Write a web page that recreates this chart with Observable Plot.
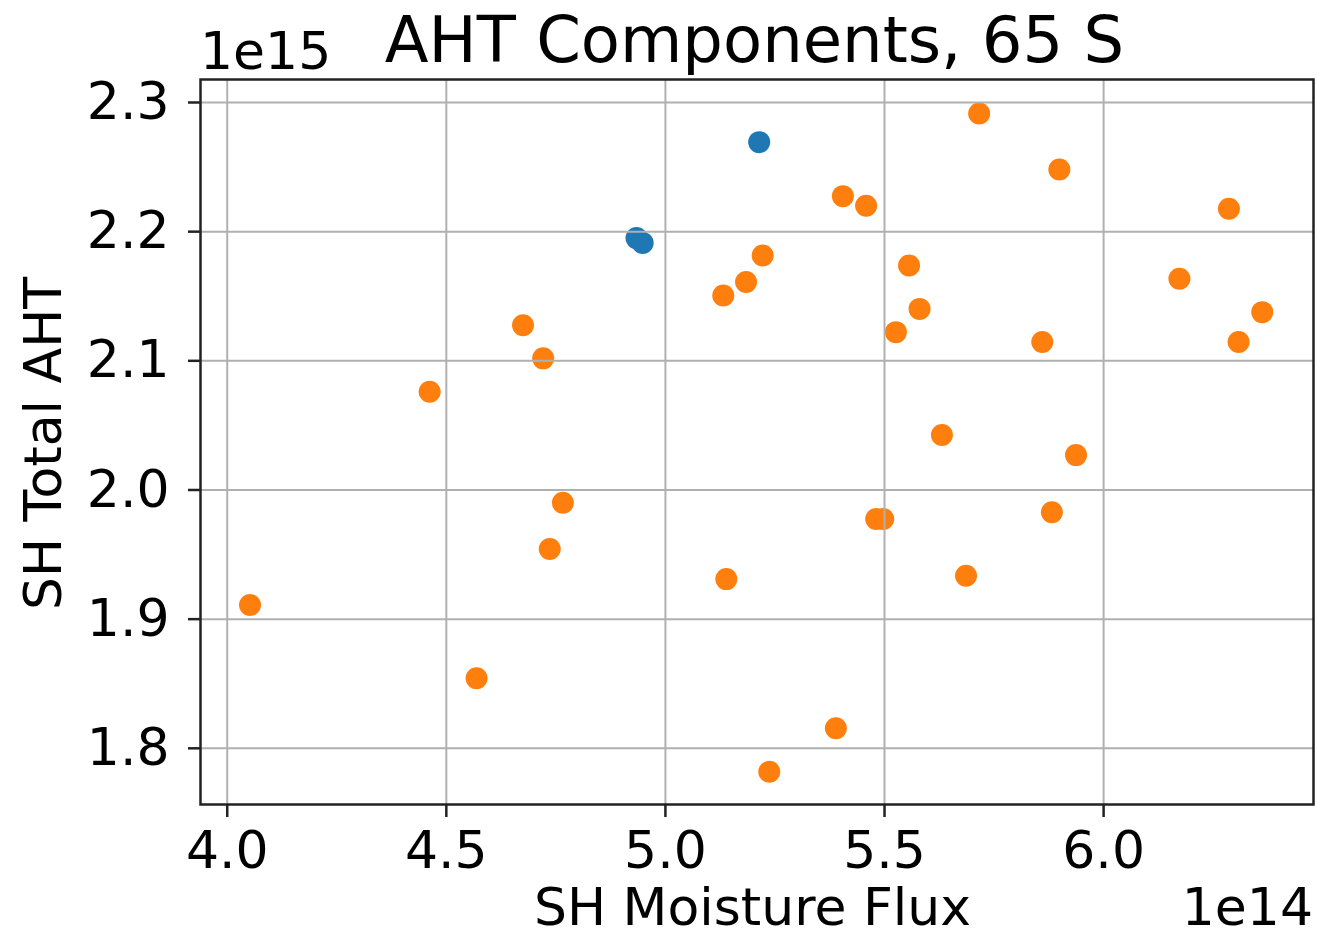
<!DOCTYPE html>
<html>
<head>
<meta charset="utf-8">
<script src="https://cdn.jsdelivr.net/npm/d3@7"></script>
<script src="https://cdn.jsdelivr.net/npm/@observablehq/plot@0.6"></script>
<style>
  html, body { margin: 0; padding: 0; background: white; }
  svg { display: block; }
</style>
</head>
<body>
<div id="chart"></div>
<script>
// Values in units of 1e14 (x: SH Moisture Flux) and 1e15 (y: SH Total AHT)
const blueX = [5.214, 4.934, 4.948];
const blueY = [2.2693, 2.1950, 2.1913];

const orangeX = [5.716, 5.899, 5.405, 5.458, 6.286, 5.222, 5.184, 5.132, 5.556, 5.580,
                 5.526, 6.173, 6.362, 6.308, 5.860, 5.631, 5.937, 5.481, 5.497, 5.882,
                 5.139, 5.686, 5.389, 5.237, 4.766, 4.736, 4.052, 4.569, 4.675, 4.721, 4.462];
const orangeY = [2.2915, 2.2481, 2.2275, 2.2200, 2.2177, 2.1816, 2.1610, 2.1506, 2.1738, 2.1402,
                 2.1222, 2.1635, 2.1377, 2.1145, 2.1145, 2.0425, 2.0270, 1.9775, 1.9775, 1.9827,
                 1.9310, 1.9336, 1.8155, 1.7819, 1.9901, 1.9543, 1.9109, 1.8542, 2.1276, 2.1019, 2.0760];

const xTicks = [4.0, 4.5, 5.0, 5.5, 6.0];
const yTicks = [1.8, 1.9, 2.0, 2.1, 2.2, 2.3];

const titleText = "AHT Components, 65 S";
const xLabel = "SH Moisture Flux";
const yLabel = "SH Total AHT";
const xOffsetText = "1e14";
const yOffsetText = "1e15";

const blue = blueX.map((x, i) => ({x, y: blueY[i]}));
const orange = orangeX.map((x, i) => ({x, y: orangeY[i]}));

const W = 1317, H = 937;
const mL = 200, mR = 4, mT = 79, mB = 133;

const chart = Plot.plot({
  width: W, height: H,
  marginLeft: mL, marginRight: mR, marginTop: mT, marginBottom: mB,
  style: {fontFamily: "DejaVu Sans", fontSize: "52px", background: "white", color: "black"},
  x: {domain: [3.939, 6.479], label: null},
  y: {domain: [1.7565, 2.3178], label: null},
  marks: [
    Plot.dot(blue, {x: "x", y: "y", r: 11, fill: "#1f77b4", stroke: "none"}),
    Plot.dot(orange, {x: "x", y: "y", r: 11, fill: "#ff7f0e", stroke: "none"}),
    Plot.gridX(xTicks, {stroke: "#b0b0b0", strokeOpacity: 1, strokeWidth: 2}),
    Plot.gridY(yTicks, {stroke: "#b0b0b0", strokeOpacity: 1, strokeWidth: 2}),
    Plot.frame({stroke: "#222", strokeWidth: 2.5}),
    Plot.axisX(xTicks, {tickSize: 13, tickPadding: 14, strokeWidth: 2.5, stroke: "#222",
      tickFormat: d => d.toFixed(1), fontSize: 52, label: null}),
    Plot.axisY(yTicks, {tickSize: 12, tickPadding: 19, strokeWidth: 2.5, stroke: "#222",
      tickFormat: d => d.toFixed(1), fontSize: 52, label: null})
  ]
});

const svg = d3.select(chart);
const plotCx = (mL + (W - mR)) / 2;
const plotCy = (mT + (H - mB)) / 2;
function addText(x, y, text, size, anchor, rotate) {
  const t = svg.append("text")
    .attr("x", x).attr("y", y)
    .attr("text-anchor", anchor)
    .attr("font-family", "DejaVu Sans")
    .attr("font-size", size)
    .attr("fill", "black")
    .text(text);
  if (rotate) t.attr("transform", `rotate(${rotate},${x},${y})`);
  return t;
}
addText(plotCx - 2, 62, titleText, 64, "middle");
addText(mL, 69, yOffsetText, 52, "start");
addText(W - mR, 925, xOffsetText, 52, "end");
addText(plotCx - 4, 925, xLabel, 52, "middle");
addText(61, plotCy + 2, yLabel, 52, "middle", -90);

document.getElementById("chart").appendChild(chart);
</script>
</body>
</html>
